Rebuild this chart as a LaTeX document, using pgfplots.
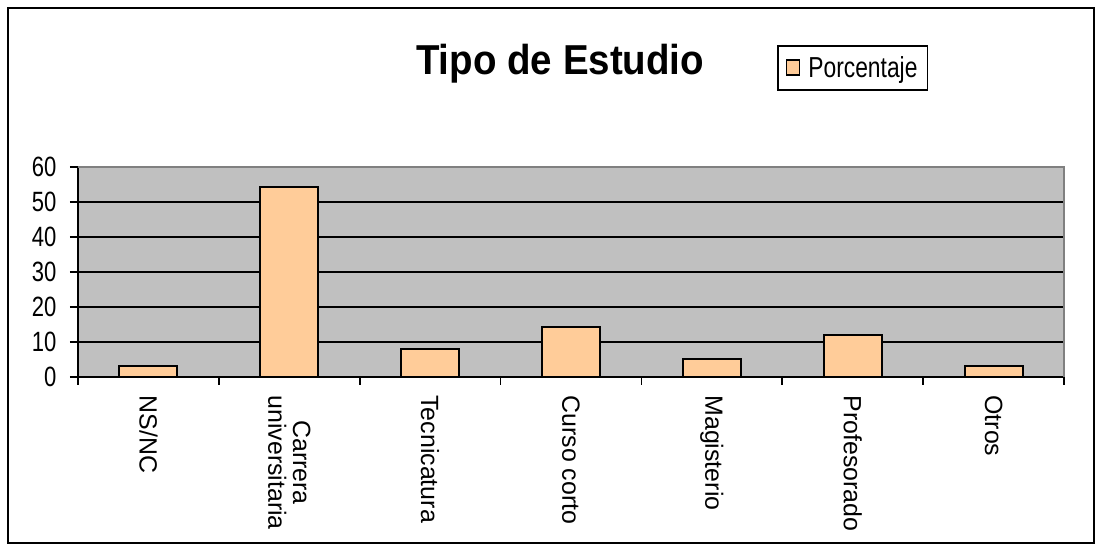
\documentclass[border=0pt]{standalone}
\usepackage{fontspec}
\setmainfont{Liberation Sans}
\newfontfamily\condfont[FakeStretch=0.79]{Liberation Sans}
\newfontfamily\titlefont[FakeStretch=0.92]{Liberation Sans}
\usepackage{pgfplots}
\pgfplotsset{compat=1.18}
\definecolor{barfill}{HTML}{FFCC99}
\definecolor{plotbg}{HTML}{C0C0C0}
\definecolor{edgegray}{HTML}{808080}
\pgfplotsset{
  /pgfplots/square legend/.style={
    /pgfplots/legend image code/.code={\draw[##1, line width=1.5bp] (2bp,-7bp) rectangle (15bp,8bp);}
  }
}
\begin{document}
\begin{tikzpicture}[x=1bp,y=1bp]
\useasboundingbox (0,0) rectangle (1102,551);
\draw[line width=2.8bp] (8,8) rectangle (1094,543);
\begin{axis}[
  at={(78bp,174bp)}, anchor=south west,
  scale only axis, width=986bp, height=210bp,
  xmin=-0.5, xmax=6.5, ymin=0, ymax=60,
  clip=false,
  axis lines=left,
  axis line style={-, black, line width=2bp},
  axis background/.style={fill=plotbg},
  ytick={0,10,...,60},
  xtick={-0.5,0.5,...,6.5}, xticklabels={},
  tick align=outside, major tick length=8bp,
  tick style={black, line width=1.6bp},
  ymajorgrids, major grid style={black, line width=1.8bp},
  /pgf/number format/assume math mode=true,
  yticklabel style={font=\condfont\fontsize{28}{30}\selectfont},
  yticklabel shift=10bp,
  xticklabel shift=7bp,
  extra x ticks={0,1,...,6},
  extra x tick labels={NS/NC,{Carrera\\universitaria},Tecnicatura,Curso corto,Magisterio,Profesorado,Otros},
  extra x tick style={tick style={draw=none},
    xticklabel style={rotate=-90, anchor=west, align=center, font=\fontsize{25}{25}\selectfont}},
  ybar, bar width=58bp,
  title={Tipo de Estudio},
  title style={at={(0.489,1.414)}, anchor=base, font=\titlefont\bfseries\fontsize{42}{44}\selectfont},
  legend style={at={(0.709,1.581)}, anchor=north west, draw=black, line width=1.6bp,
    font=\condfont\fontsize{29}{31}\selectfont, inner xsep=8bp, inner ysep=9bp,
    /tikz/every odd column/.append style={column sep=6bp}},
]
\addplot[fill=barfill, draw=black, line width=2bp, square legend]
  coordinates {(0,3) (1,54.4) (2,8.1) (3,14.4) (4,5) (5,12) (6,3.1)};
\addlegendentry{Porcentaje}
\draw[edgegray, line width=2.2bp] (rel axis cs:0,1) -- (rel axis cs:1,1) -- (rel axis cs:1,0);
\end{axis}
\end{tikzpicture}
\end{document}
